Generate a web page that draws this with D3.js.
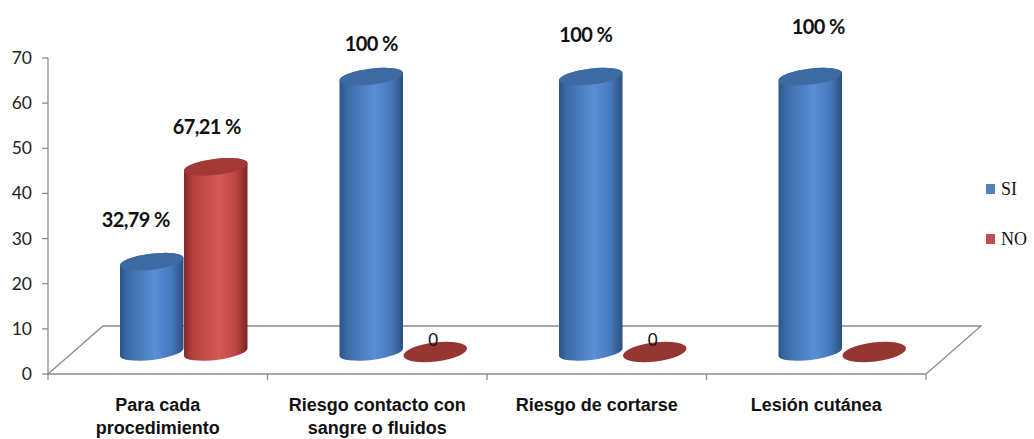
<!DOCTYPE html>
<html><head><meta charset="utf-8">
<script src="https://cdn.jsdelivr.net/npm/d3@7"></script>
<style>body{margin:0;background:#fff}svg{display:block}</style>
</head><body>
<svg id="c" width="1034" height="439"></svg>
<script>
// ---- data ----
const categories = [["Para cada","procedimiento"],["Riesgo contacto con","sangre o fluidos"],["Riesgo de cortarse"],["Lesión cutánea"]];
const series = ["SI","NO"];
const siValues = [20, 61, 61, 61];
const noValues = [41, 0, 0, 0];
const siLabels = ["32,79 %","100 %","100 %","100 %"];
const noLabels = ["67,21 %","0","0",""];
const yTicks = [0,10,20,30,40,50,60,70];
// label offsets (style): [dx, dy] relative to top of bar
const siLabelOff = [[-16,-35],[0,-26],[-5,-35],[8,-43]];
const noLabelOff = [[-9,-33],[-2,-6],[-2,-6],[0,0]];

const svg = d3.select("#c");
const x0 = d3.scaleBand().domain(d3.range(categories.length)).range([48, 926]).padding(0);
const x1 = d3.scaleBand().domain(series).range([0, x0.bandwidth()]).paddingInner(0).paddingOuter(0.715);
const y = d3.scaleLinear().domain([0,70]).range([374, 58]);
const depthX = 55, depthY = -48;   // floor depth
const barDX = 26, barDY = -22;     // bars sit mid-depth

const defs = svg.append("defs");
function grad(id, stops){
  const g = defs.append("linearGradient").attr("id", id).attr("x1","0").attr("x2","1").attr("y1","0").attr("y2","0");
  stops.forEach(s => g.append("stop").attr("offset", s[0]).attr("stop-color", s[1]));
}
grad("gSI", [[0,"#2c5587"],[0.12,"#3c6aa7"],[0.55,"#5a8fd5"],[0.82,"#4677bb"],[1,"#2b4f7e"]]);
grad("gNO", [[0,"#862a28"],[0.15,"#b5413e"],[0.55,"#d55a56"],[0.82,"#bb4642"],[1,"#7a2523"]]);
const topCol = {SI:"#3d6aa3", NO:"#a33836"};
const flatCol = {SI:"#3d6aa3", NO:"#953633"};

// axis line + ticks
const axisCol = "#8c8c8c";
svg.append("line").attr("x1",48).attr("x2",48).attr("y1",y(70)).attr("y2",y(0)).attr("stroke",axisCol).attr("stroke-width",1.3);
svg.selectAll(".yt").data(yTicks).join("line").attr("x1",42).attr("x2",48)
  .attr("y1",d=>y(d)).attr("y2",d=>y(d)).attr("stroke",axisCol).attr("stroke-width",1.3);
svg.selectAll(".yl").data(yTicks).join("text").attr("x",32).attr("y",d=>y(d)+6)
  .attr("text-anchor","end").attr("font-family","Lato, 'Open Sans', sans-serif").attr("font-size",17.5)
  .attr("fill","#222").text(d=>d);

// floor
const fx0 = x0.range()[0], fx1 = x0.range()[1], fy = y(0);
svg.append("path").attr("d", `M${fx0},${fy} L${fx0+depthX},${fy+depthY} L${fx1+depthX},${fy+depthY} L${fx1},${fy}`)
  .attr("fill","none").attr("stroke",axisCol).attr("stroke-width",1.3);
svg.append("line").attr("x1",fx0).attr("x2",fx1).attr("y1",fy).attr("y2",fy).attr("stroke",axisCol).attr("stroke-width",1.3);
const catTicks = d3.range(categories.length+1).map(i => i < categories.length ? x0(i) : fx1);
svg.selectAll(".ct").data(catTicks).join("line").attr("x1",d=>d).attr("x2",d=>d)
  .attr("y1",fy).attr("y2",fy+6).attr("stroke",axisCol).attr("stroke-width",1.3);

// cylinders
const rx = x1.bandwidth()/2, ry = 8, rot = -7;
const rad = rot*Math.PI/180;
function cyl(g, cx, vTop, s){
  const yb = y(0) + barDY, yt = y(vTop) + barDY;
  const ex = rx*Math.cos(rad), ey = rx*Math.sin(rad);
  if (vTop > 0) {
    const d = `M${cx-ex},${yt-ey} L${cx-ex},${yb-ey} A${rx},${ry} ${rot} 0 0 ${cx+ex},${yb+ey} L${cx+ex},${yt+ey} A${rx},${ry} ${rot} 0 0 ${cx-ex},${yt-ey} Z`;
    g.append("path").attr("d", d).attr("fill", `url(#g${s})`);
    g.append("ellipse").attr("cx",cx).attr("cy",yt).attr("rx",rx).attr("ry",ry)
      .attr("transform",`rotate(${rot},${cx},${yt})`).attr("fill",topCol[s]);
  } else {
    g.append("ellipse").attr("cx",cx).attr("cy",yb).attr("rx",rx).attr("ry",ry+1.5)
      .attr("transform",`rotate(${rot},${cx},${yb})`).attr("fill",flatCol[s]);
  }
}
const bars = svg.append("g");
categories.forEach((c,i) => {
  const cxSI = x0(i) + x1("SI") + rx + barDX;
  const cxNO = x0(i) + x1("NO") + rx + barDX;
  cyl(bars, cxSI, siValues[i], "SI");
  cyl(bars, cxNO, noValues[i], "NO");
});

// value labels
categories.forEach((c,i) => {
  const cxSI = x0(i) + x1("SI") + rx + barDX;
  const cxNO = x0(i) + x1("NO") + rx + barDX;
  svg.append("text").attr("x", cxSI + siLabelOff[i][0]).attr("y", y(siValues[i]) + barDY + siLabelOff[i][1])
    .attr("text-anchor","middle").attr("font-family","Lato, sans-serif").attr("font-weight","bold")
    .attr("font-size",20).attr("letter-spacing",-0.6).attr("fill","#111").text(siLabels[i]);
  if (noLabels[i]) {
    const bold = noValues[i] > 0;
    svg.append("text").attr("x", cxNO + noLabelOff[i][0]).attr("y", y(noValues[i]) + barDY + noLabelOff[i][1])
      .attr("text-anchor","middle").attr("font-family","Lato, sans-serif").attr("font-weight", bold ? "bold" : "normal")
      .attr("font-size", bold ? 20 : 17).attr("letter-spacing", bold ? -0.6 : 0).attr("fill","#111").text(noLabels[i]);
  }
});

// category labels
categories.forEach((lines,i) => {
  const t = svg.append("text").attr("x", x0(i) + x0.bandwidth()/2).attr("y", 411)
    .attr("text-anchor","middle").attr("font-family","'Liberation Sans', Arial, sans-serif")
    .attr("font-weight","bold").attr("font-size",18).attr("fill","#111");
  lines.forEach((l,j) => t.append("tspan").attr("x", x0(i) + x0.bandwidth()/2).attr("dy", j ? 23 : 0).text(l));
});

// legend
const legCol = {SI:"#4f81bd", NO:"#c0504d"};
series.forEach((s,i) => {
  const ly = 189 + i*50;
  svg.append("rect").attr("x",986).attr("y",ly-5).attr("width",9).attr("height",10).attr("fill",legCol[s]);
  svg.append("text").attr("x",1001).attr("y",ly+6).attr("font-family","'Liberation Serif', 'Times New Roman', serif")
    .attr("font-size",18).attr("fill","#111").text(s);
});
</script>
</body></html>
